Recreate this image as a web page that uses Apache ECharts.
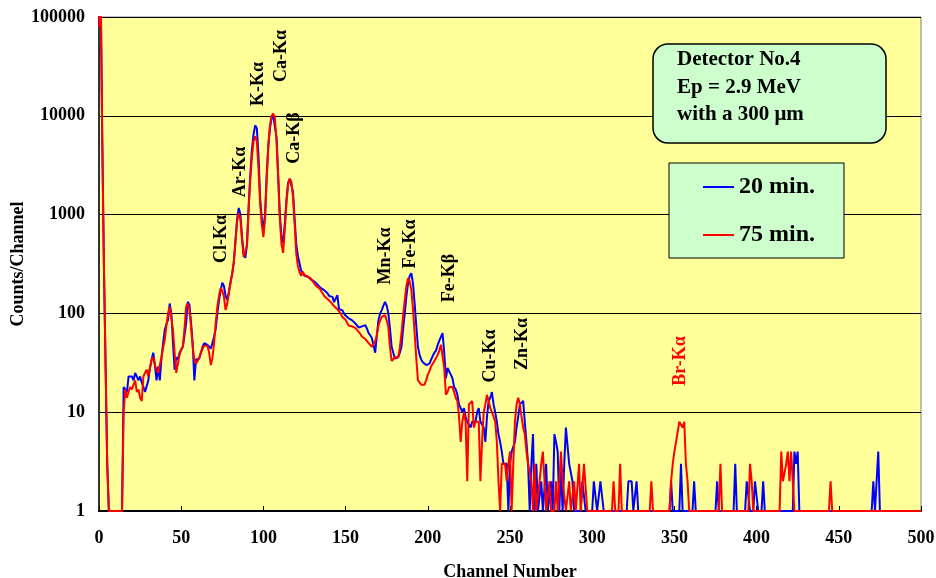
<!DOCTYPE html>
<html><head><meta charset="utf-8">
<script src="https://cdn.jsdelivr.net/npm/echarts@6/dist/echarts.min.js"></script>
<style>html,body{margin:0;padding:0;background:#fff}#c{width:936px;height:578px}</style>
</head><body><div id="c"></div>
<script>
// Channel axis ticks
const xTicks = [0, 50, 100, 150, 200, 250, 300, 350, 400, 450, 500];
const yTicks = [1, 10, 100, 1000, 10000, 100000];
const seriesNames = ['20 min.', '75 min.'];

// 20 min. spectrum, counts for channels 0..300 (index = channel)
const counts20 = [
  80000, 200000, 5500, 300, 300, 3, 1, 1, 1, 1,
  1, 1, 1, 1, 1, 18, 17, 16, 23, 23,
  23, 21, 25, 23, 21, 23, 20, 18, 16, 16,
  21, 28, 34, 40, 30, 21, 29, 21, 35, 50,
  68, 78, 86, 126, 100, 50, 27, 36, 34, 40,
  43, 46, 60, 79, 131, 122, 80, 50, 21, 34,
  34, 35, 40, 46, 50, 49, 48, 46, 44, 50,
  58, 70, 100, 136, 170, 204, 190, 150, 137, 165,
  210, 250, 330, 550, 900, 1170, 1000, 600, 400, 365,
  500, 1200, 2500, 4500, 6500, 8000, 7500, 4000, 1500, 900,
  730, 1000, 2500, 5000, 7500, 9500, 10000, 9800, 6000, 2500,
  1000, 600, 515, 800, 1400, 2100, 2300, 2250, 1700, 900,
  500, 380, 320, 270, 265, 240, 245, 235, 235, 220,
  215, 210, 203, 195, 190, 180, 175, 172, 172, 160,
  150, 147, 147, 130, 125, 153, 110, 105, 108, 100,
  95, 92, 89, 87, 85, 82, 79, 78, 72, 73,
  74, 72, 76, 70, 63, 60, 56, 54, 40, 60,
  86, 100, 108, 120, 131, 120, 100, 70, 46, 40,
  35, 36, 36, 40, 46, 70, 100, 150, 203, 240,
  255, 200, 126, 75, 46, 38, 34, 32, 31, 30,
  29, 31, 34, 37, 40, 42, 48, 53, 58, 63,
  40, 22, 28, 26, 24, 22, 18, 17, 15, 12,
  11, 10, 11, 9, 8, 8, 7, 8, 8, 8,
  10, 11, 8, 8, 7, 5, 9, 13, 14, 16,
  12, 10, 8, 6, 5, 4, 3, 3, 3, 1,
  3, 4, 4, 5, 7, 9, 12, 12, 13, 8,
  5, 3, 1, 3, 6, 1, 3, 1, 1, 2,
  1, 1, 3, 1, 1, 2, 1, 6, 5, 4,
  1, 3, 1, 3, 7, 7, 3, 3, 2, 1,
  1, 1, 1, 1, 2, 2, 1, 1, 1, 1,
  1
];
// 20 min. spectrum above channel 300 (sparse counts)
const tail20Ch = [301, 302, 303, 304, 305, 306, 307, 321, 322, 323, 324, 325, 326, 327, 328,
  347, 348, 349, 353, 354, 355, 361, 362, 363, 375, 376, 377, 386, 387, 388,
  393, 394, 395, 396, 398, 399, 400, 401, 403, 404, 405,
  422, 423, 424, 425, 426, 470, 471, 472, 473, 474, 475, 500];
const tail20N = [2, 2, 1, 1, 2, 2, 1, 1, 2, 2, 2, 1, 1, 2, 1,
  1, 2, 1, 1, 3, 1, 1, 2, 1, 1, 2, 1, 1, 3, 1,
  1, 2, 2, 1, 1, 2, 2, 1, 1, 2, 1,
  1, 4, 3, 4, 1, 1, 2, 1, 1, 4, 1, 1];

// 75 min. spectrum, counts for channels 0..300 (index = channel)
const counts75 = [
  80000, 200000, 5500, 300, 300, 3, 1, 1, 1, 1,
  1, 1, 1, 1, 1, 10, 17, 14, 16, 18,
  17, 19, 21, 16, 17, 14, 13, 23, 25, 27,
  23, 28, 34, 36, 30, 27, 25, 25, 36, 45,
  54, 75, 100, 117, 90, 68, 40, 25, 31, 38,
  43, 46, 70, 117, 126, 110, 73, 45, 34, 31,
  33, 36, 40, 44, 47, 48, 47, 40, 30, 35,
  50, 80, 117, 150, 180, 170, 147, 108, 125, 160,
  200, 250, 330, 520, 850, 1040, 900, 550, 370, 355,
  480, 1100, 2200, 3800, 5500, 6200, 5500, 3000, 1300, 800,
  590, 900, 2300, 5000, 8000, 10000, 10500, 9500, 5500, 2300,
  900, 500, 410, 700, 1300, 2000, 2300, 2150, 1500, 800,
  400, 300, 260, 240, 265, 245, 250, 235, 235, 225,
  215, 200, 190, 185, 180, 170, 160, 150, 145, 140,
  137, 130, 125, 118, 113, 110, 105, 100, 92, 88,
  86, 80, 75, 73, 74, 72, 71, 68, 65, 62,
  58, 56, 55, 53, 50, 48, 46, 48, 52, 60,
  75, 85, 92, 96, 96, 85, 73, 45, 33, 34,
  36, 36, 36, 45, 63, 95, 137, 190, 227, 210,
  172, 110, 63, 35, 21, 20, 19, 19, 19, 21,
  24, 26, 29, 31, 33, 34, 38, 42, 48, 48,
  28, 15, 16, 18, 18, 18, 16, 14, 13, 9,
  5, 8, 10, 8, 2, 12, 12, 13, 7, 8,
  8, 8, 2, 5, 10, 12, 15, 13, 11, 10,
  9, 8, 5, 2, 1, 3, 3, 3, 2, 3,
  4, 1, 3, 8, 12, 14, 12, 9, 7, 6,
  4, 3, 3, 2, 1, 3, 1, 1, 2, 3,
  4, 2, 1, 1, 2, 1, 1, 1, 2, 1,
  1, 4, 2, 2, 1, 1, 2, 1, 1, 2,
  1, 1, 3, 1, 1, 3, 3, 1, 1, 1,
  1
];
// 75 min. spectrum above channel 300 (sparse counts)
const tail75Ch = [312, 313, 314, 316, 317, 318, 335, 336, 337,
  347, 348, 349, 350, 351, 352, 353, 354, 355, 356, 357, 358, 359,
  377, 378, 379, 395, 396, 397, 398,
  414, 415, 416, 417, 418, 419, 420, 421, 422, 423,
  444, 445, 446, 500];
const tail75N = [1, 2, 1, 1, 3, 1, 1, 2, 1,
  1, 2, 3, 4, 5, 5, 8, 8, 7, 8, 3, 2, 1,
  1, 3, 1, 1, 3, 2, 1,
  1, 4, 2, 2, 3, 4, 2, 4, 4, 1,
  1, 2, 1, 1];

const peakLabels = ['Cl-Kα', 'Ar-Kα', 'K-Kα', 'Ca-Kα', 'Ca-Kβ', 'Mn-Kα', 'Fe-Kα', 'Fe-Kβ', 'Cu-Kα', 'Zn-Kα', 'Br-Kα'];
const infoLines = ['Detector No.4', 'Ep = 2.9 MeV', 'with a 300 μm'];

function buildSeries(counts, tailCh, tailN) {
  const out = counts.map((v, i) => [i, v]);
  tailCh.forEach((c, i) => out.push([c, tailN[i]]));
  return out;
}
const data20 = buildSeries(counts20, tail20Ch, tail20N);
const data75 = buildSeries(counts75, tail75Ch, tail75N);

const FONT = '"Liberation Serif", "Times New Roman", serif';
// label placement (pixels)
const labelPos = [[221.5, 239], [240, 172], [258, 84], [281, 56], [294.5, 138], [385, 256], [410.5, 244], [449.5, 278], [490, 356], [522, 344], [680, 361]];
const labelColor = ['#000', '#000', '#000', '#000', '#000', '#000', '#000', '#000', '#000', '#000', '#FF0000'];

const graphics = peakLabels.map((t, i) => ({
  type: 'text', x: labelPos[i][0], y: labelPos[i][1], rotation: Math.PI / 2, z: 100,
  style: { text: t, fill: labelColor[i], font: 'bold 18px ' + FONT, textAlign: 'center', textVerticalAlign: 'middle' }
}));
graphics.push({
  type: 'rect', shape: { x: 653, y: 44, width: 233, height: 99, r: 15 }, z: 100,
  style: { fill: '#CCFFCC', stroke: '#000', lineWidth: 1.5 }
});
const lineY = [60, 88, 115];
infoLines.forEach((t, i) => graphics.push({
  type: 'text', x: 677, y: lineY[i], z: 101,
  style: { text: t, fill: '#000', font: 'bold 21px ' + FONT, textAlign: 'left', textVerticalAlign: 'middle' }
}));

const chart = echarts.init(document.getElementById('c'));
chart.setOption({
  animation: false,
  backgroundColor: '#ffffff',
  grid: { left: 99, right: 15, top: 17, bottom: 67, show: true, backgroundColor: '#FFFF99',
    borderColor: '#808080', borderWidth: 1, outerBoundsMode: 'none', containLabel: false },
  xAxis: {
    type: 'value', min: xTicks[0], max: xTicks[xTicks.length - 1], interval: 50,
    name: 'Channel Number', nameLocation: 'middle', nameGap: 52, nameMoveOverlap: false,
    nameTextStyle: { fontFamily: FONT, fontWeight: 'bold', fontSize: 18, color: '#000' },
    axisLine: { lineStyle: { color: '#000', width: 2 } },
    axisTick: { inside: true, length: 5, lineStyle: { color: '#000' } },
    axisLabel: { fontFamily: FONT, fontWeight: 'bold', fontSize: 18, color: '#000', margin: 18 },
    splitLine: { show: false }
  },
  yAxis: {
    type: 'log', logBase: 10, min: yTicks[0], max: yTicks[yTicks.length - 1],
    name: 'Counts/Channel', nameLocation: 'middle', nameGap: 72, nameMoveOverlap: false,
    nameTextStyle: { fontFamily: FONT, fontWeight: 'bold', fontSize: 18, color: '#000' },
    axisLine: { show: true, lineStyle: { color: '#333', width: 2 } },
    axisTick: { show: false },
    axisLabel: { fontFamily: FONT, fontWeight: 'bold', fontSize: 18, color: '#000', margin: 14,
      formatter: v => String(Math.round(v)) },
    splitLine: { show: true, lineStyle: { color: '#000', width: 1 } }
  },
  legend: {
    data: seriesNames, orient: 'vertical', left: 669, top: 163,
    padding: [12, 29, 11, 34], itemGap: 24, itemWidth: 31, itemHeight: 2, icon: 'rect',
    backgroundColor: '#CCFFCC', borderColor: '#000', borderWidth: 1,
    textStyle: { fontFamily: FONT, fontWeight: 'bold', fontSize: 24, color: '#000' }
  },
  series: [
    { name: seriesNames[0], type: 'line', data: data20, showSymbol: false, symbol: 'none',
      lineStyle: { color: '#0000FF', width: 2 }, itemStyle: { color: '#0000FF' }, clip: true },
    { name: seriesNames[1], type: 'line', data: data75, showSymbol: false, symbol: 'none',
      lineStyle: { color: '#FF0000', width: 2 }, itemStyle: { color: '#FF0000' }, clip: true }
  ],
  graphic: graphics
});
</script></body></html>
